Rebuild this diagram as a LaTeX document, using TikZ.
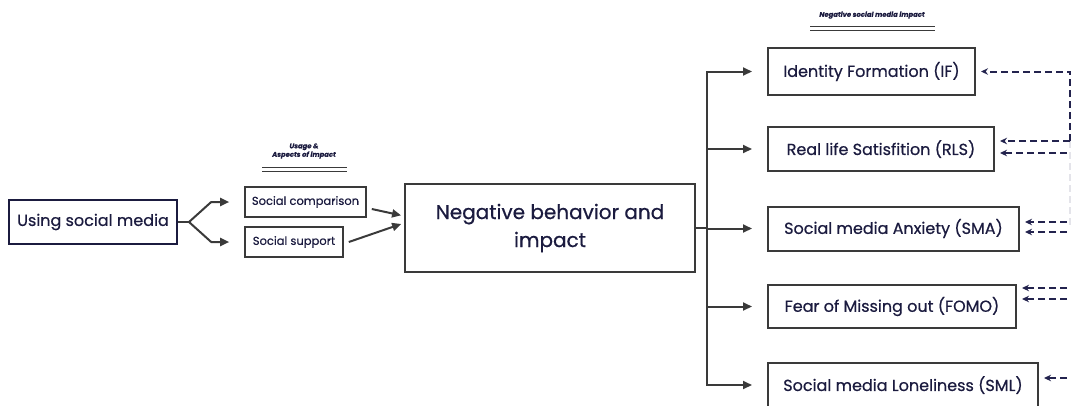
\documentclass[tikz,border=0pt]{standalone}
\usepackage{fontspec}
\setmainfont{Poppins}[FakeBold=0.6]
\usepackage{xcolor}
\usetikzlibrary{arrows.meta,positioning,calc}

\definecolor{inkblue}{HTML}{1B1B3F}
\definecolor{edgegray}{HTML}{3A3A3A}
\definecolor{dashblue}{HTML}{23234E}

\begin{document}
\begin{tikzpicture}[
  x=1pt, y=-1pt,
  font=\fontsize{16}{19}\selectfont, text=inkblue,
  box/.style={draw=edgegray, line width=2pt, align=center, minimum height=44pt, inner sep=0pt},
  smallbox/.style={draw=edgegray, line width=1.6pt, align=center, minimum height=30pt, inner sep=0pt, font=\fontsize{11.5}{14}\selectfont},
  impactbox/.style={box, anchor=west},
  note/.style={align=center, font=\fontsize{6.8}{8.5}\selectfont\bfseries\itshape},
  line/.style={draw=edgegray, line width=2pt},
  arrow/.style={line, -{Triangle[length=9pt,width=8pt]}, shorten >=15pt},
  fbarrow/.style={draw=dashblue, line width=2pt, dash pattern=on 7pt off 4pt, -{Stealth[length=7pt,width=6.5pt]}, shorten >=5pt}
]
\useasboundingbox (0,0) rectangle (1071,405);

% left part
\node[box, draw=inkblue, minimum width=168pt] (use) at (93,222) {Using social media};
\node[smallbox, minimum width=121pt] (comp) at (305.5,202) {Social comparison};
\node[smallbox, minimum width=98pt] (supp) at (294,242) {Social support};
\node[note] (usage) at (304,151) {Usage \&\\Aspects of impact};
\draw[edgegray, line width=1pt] (262,167) -- (347,167) (262,171) -- (347,171);

\node[box, minimum width=290pt, minimum height=88pt, font=\fontsize{20}{28}\selectfont] (neg) at (550,228) {Negative behavior and\\impact};

\draw[line] (use.east) -- ++(11,0) coordinate (fork);
\draw[arrow] (fork) -- ([xshift=-33pt]comp.west) -- (comp.west);
\draw[arrow] (fork) -- ([xshift=-33pt]supp.west) -- (supp.west);
\draw[arrow, shorten >=3pt] ([shift={(5,7)}]comp.east) -- ([yshift=12pt]neg.west);
\draw[arrow, shorten >=3pt] ([xshift=5pt]supp.east) -- ([yshift=5pt]neg.west);

% right part
\node[note] (negnote) at (872,15) {Negative social media impact};
\draw[edgegray, line width=1pt] (810,26) -- (935,26) (810,30) -- (935,30);

\node[impactbox, minimum width=207pt, minimum height=47pt] (if) at (767,71.5) {Identity Formation (IF)};
\node[impactbox, minimum width=226pt] (rls) at (767,149) {Real life Satisfition (RLS)};
\node[impactbox, minimum width=251pt] (sma) at (767,228.5) {Social media Anxiety (SMA)};
\node[impactbox, minimum width=248pt, minimum height=43pt] (fomo) at (767,306.5) {Fear of Missing out (FOMO)};
\node[impactbox, minimum width=270pt] (sml) at (767,385) {Social media Loneliness (SML)};

\coordinate (split) at (707,228);
\draw[line] (neg.east) -- (split);
\foreach \n in {if,rls,sma,fomo,sml}
  \draw[arrow] (split) |- (\n.west);

% feedback from the right
\coordinate (fbtop) at (1070,141);
\draw[dashblue!12, line width=1.5pt, dash pattern=on 7pt off 4pt] (fbtop) -- (1070,225);
\draw[fbarrow] (fbtop) |- (if.east);
\draw[fbarrow] (fbtop) -- (rls.east |- fbtop);
\foreach \y/\n in {153/rls,222/sma,232/sma,288/fomo,299/fomo,378/sml} {
  \coordinate (fb-\y) at (1078,\y);
  \draw[fbarrow] (fb-\y) -- (\n.east |- fb-\y);
}
\end{tikzpicture}
\end{document}
